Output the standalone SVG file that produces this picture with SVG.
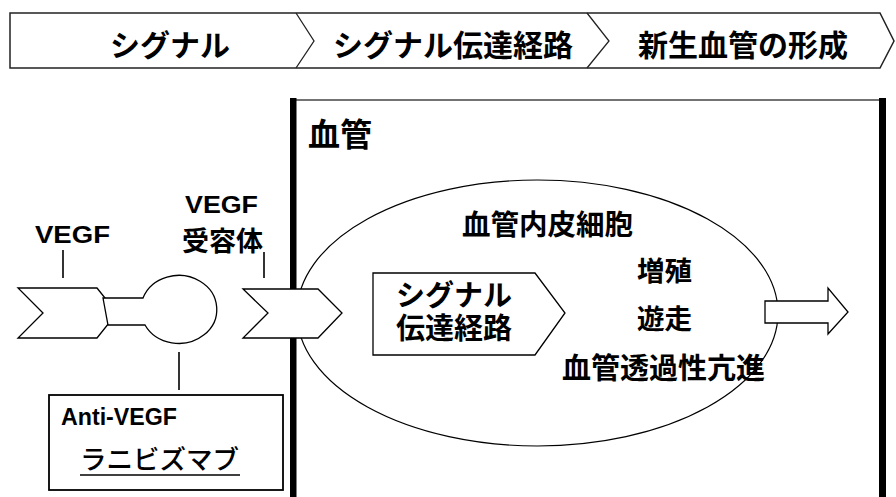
<svg xmlns="http://www.w3.org/2000/svg" width="896" height="497" viewBox="0 0 896 497">
<style>
.t{font-family:"Liberation Sans","Noto Sans CJK JP",sans-serif;font-weight:bold;fill:#000}
.r{font-family:"Noto Sans CJK JP","Liberation Sans",sans-serif;font-weight:500;fill:#000}
.sh{fill:#fff;stroke:#000;stroke-width:1.3;stroke-linejoin:miter}
.ln{stroke:#000;stroke-width:1.6;fill:none}
</style>
<rect width="896" height="497" fill="#fff"/>
<g id="banner">
<polygon points="10,13 880,13 894,41 880,68 10,68" fill="#fff" stroke="#222" stroke-width="1.5"/>
<polyline points="296,13 314,41 296,68" fill="none" stroke="#222" stroke-width="1.3"/>
<polyline points="587,13 609,41 587,68" fill="none" stroke="#222" stroke-width="1.3"/>
<text class="t" x="170" y="56" font-size="30" text-anchor="middle">シグナル</text>
<text class="t" x="453" y="56" font-size="30" text-anchor="middle">シグナル伝達経路</text>
<text class="t" x="743" y="56" font-size="30" text-anchor="middle">新生血管の形成</text>
</g>
<g id="vessel">
<line x1="293" y1="100" x2="883" y2="100" stroke="#444" stroke-width="1.5"/>
<rect x="290" y="98" width="6.5" height="399" fill="#000"/>
<rect x="879" y="98" width="7" height="399" fill="#000"/>
<text class="t" x="308" y="146" font-size="32">血管</text>
</g>
<g id="cell">
<ellipse cx="537.5" cy="313" rx="240.5" ry="133" fill="none" stroke="#000" stroke-width="1.2"/>
<text class="t" x="462" y="235" font-size="28.5">血管内皮細胞</text>
<text class="t" x="637" y="281" font-size="27.5">増殖</text>
<text class="t" x="637" y="329" font-size="27.5">遊走</text>
<text class="t" x="562" y="379" font-size="29">血管透過性亢進</text>
</g>
<g id="signal-pathway">
<polygon class="sh" points="373,273 535,273 565,313 535,355 373,355"/>
<text class="t" x="454" y="306" font-size="29" text-anchor="middle">シグナル</text>
<text class="t" x="454" y="339" font-size="29" text-anchor="middle">伝達経路</text>
</g>
<g id="out-arrow">
<polygon class="sh" points="765,301 828,301 828,288 848,312 828,334 828,323 765,323"/>
</g>
<g id="vegf">
<polygon class="sh" points="18,288 97,288 117,313 97,338 18,338 43,313"/>
<text class="t" x="35" y="243" font-size="23" textLength="75" lengthAdjust="spacingAndGlyphs">VEGF</text>
</g>
<g id="ranibizumab-binder">
<path class="sh" d="M103,298 L143,298 A38,34 0 1 1 145,325 L108,325 Z"/>
</g>
<g id="receptor">
<polygon class="sh" points="243,289 318,289 342,313 318,338 243,338 268,313"/>
<text class="t" x="185" y="213" font-size="23" textLength="73" lengthAdjust="spacingAndGlyphs">VEGF</text>
<text class="t" x="182" y="251" font-size="27">受容体</text>
</g>
<g id="anti-vegf">
<rect x="49" y="395" width="234" height="95" fill="#fff" stroke="#000" stroke-width="1.8"/>
<text class="t" x="61" y="425" font-size="23" textLength="116" lengthAdjust="spacingAndGlyphs">Anti-VEGF</text>
<text class="r" x="80" y="469" font-size="26.5">ラニビズマブ</text>
<line x1="80" y1="475" x2="240" y2="475" stroke="#000" stroke-width="1.5"/>
</g>
<g id="connectors">
<line class="ln" x1="63" y1="250" x2="63" y2="278"/>
<line class="ln" x1="264" y1="252" x2="264" y2="278"/>
<line class="ln" x1="179" y1="352" x2="179" y2="390"/>
</g>
</svg>
